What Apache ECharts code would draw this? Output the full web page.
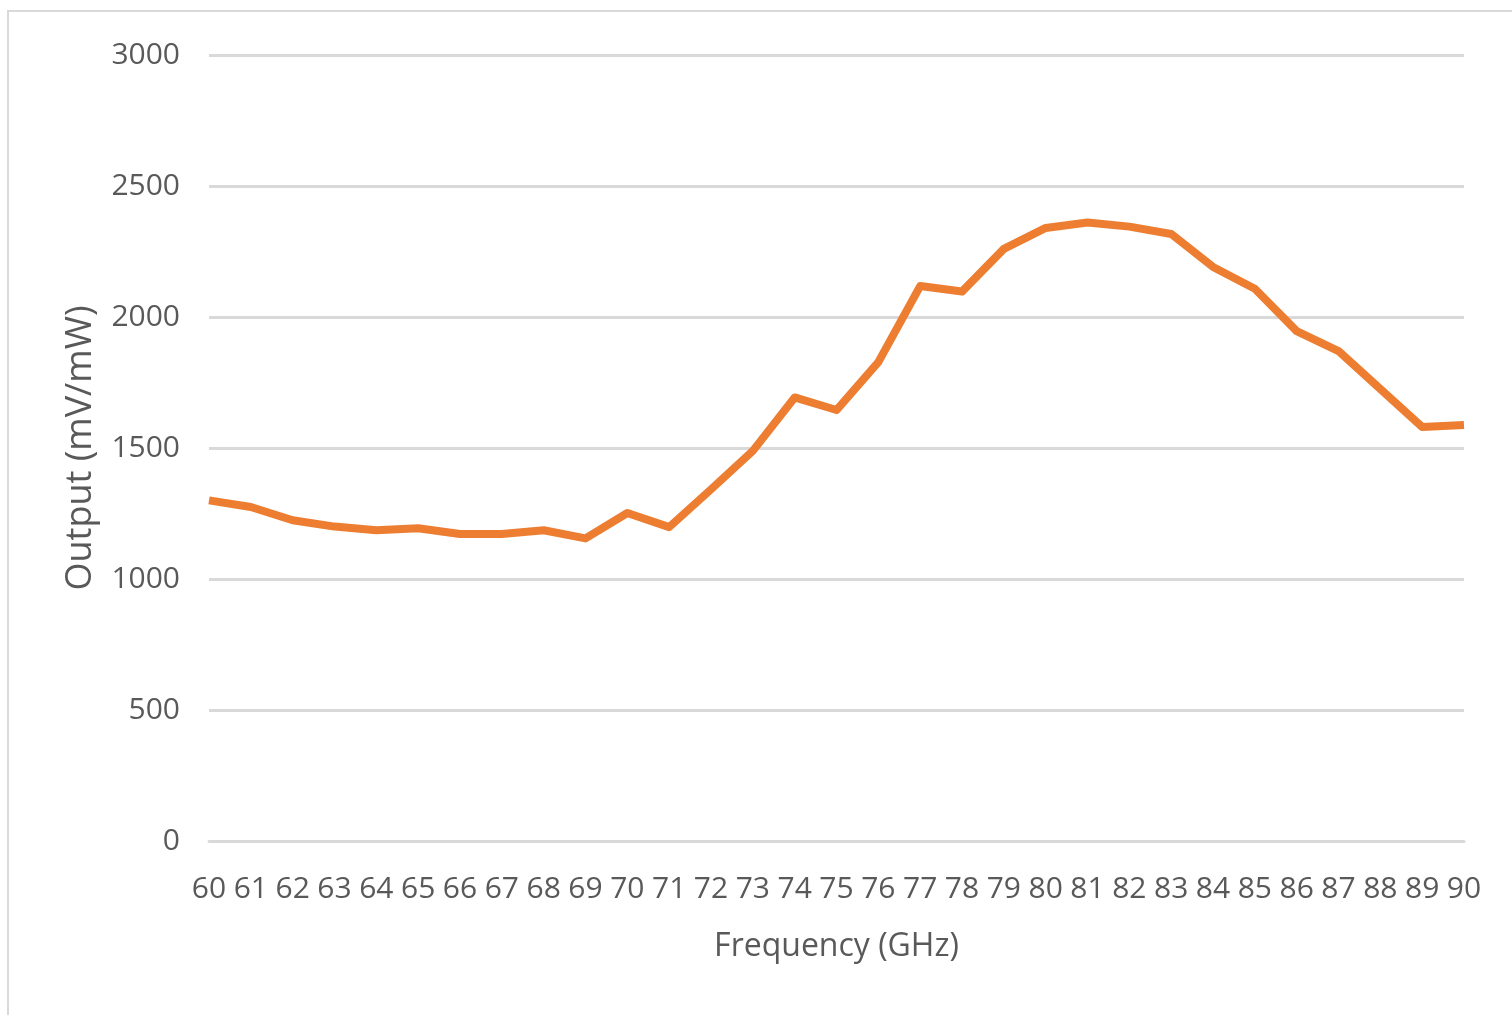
<!DOCTYPE html>
<html>
<head>
<meta charset="utf-8">
<script src="https://cdn.jsdelivr.net/npm/echarts@6/dist/echarts.min.js"></script>
<style>
  body { margin: 0; background: #fff; }
  #frame { position: absolute; left: 7px; top: 10px; width: 1520px; height: 1020px; border: 2px solid #d9d9d9; box-sizing: border-box; }
  #main { position: absolute; left: 0; top: 0; width: 1512px; height: 1015px; }
</style>
</head>
<body>
<div id="frame"></div>
<div id="main"></div>
<script>
// frequency (GHz)
var freqs = ['60','61','62','63','64','65','66','67','68','69','70','71','72','73','74','75',
             '76','77','78','79','80','81','82','83','84','85','86','87','88','89','90'];
// output (mV/mW)
var outputs = [1300, 1275, 1224, 1200, 1186, 1194, 1172, 1172, 1186, 1155, 1252, 1198, 1342, 1489, 1693, 1645,
               1828, 2118, 2097, 2260, 2340, 2361, 2345, 2317, 2191, 2108, 1946, 1870, 1725, 1580, 1588];
var yTicks = { min: 0, max: 3000, interval: 500 };

var myChart = echarts.init(document.getElementById('main'));
var txt = '#595959';
var option = {
    animation: false,
    grid: {
        left: 209,
        right: 48,
        top: 55,
        bottom: 174
    },
    xAxis: {
        type: 'category',
        boundaryGap: false,
        data: freqs,
        name: 'Frequency (GHz)',
        nameLocation: 'middle',
        nameGap: 90,
        nameTextStyle: { color: txt, fontSize: 32, fontFamily: 'Open Sans' },
        axisLine: { show: true, lineStyle: { color: '#d9d9d9', width: 3 } },
        axisTick: { show: false },
        axisLabel: { interval: 0, margin: 33, color: txt, fontSize: 30, fontFamily: 'Open Sans' }
    },
    yAxis: {
        type: 'value',
        min: yTicks.min,
        max: yTicks.max,
        interval: yTicks.interval,
        name: 'Output (mV/mW)',
        nameLocation: 'middle',
        nameGap: 110,
        nameTextStyle: { color: txt, fontSize: 36, fontFamily: 'Open Sans' },
        axisLine: { show: false },
        axisTick: { show: false },
        axisLabel: {
            margin: 29, color: txt, fontSize: 30, fontFamily: 'Open Sans',
            formatter: function (v) { return String(v); }
        },
        splitLine: { lineStyle: { color: '#d9d9d9', width: 3 } }
    },
    series: [{
        name: 'Output',
        type: 'line',
        data: outputs,
        symbol: 'none',
        lineStyle: { color: '#ED7D31', width: 8, join: 'round' },
        itemStyle: { color: '#ED7D31' }
    }]
};
myChart.setOption(option);
</script>
</body>
</html>
